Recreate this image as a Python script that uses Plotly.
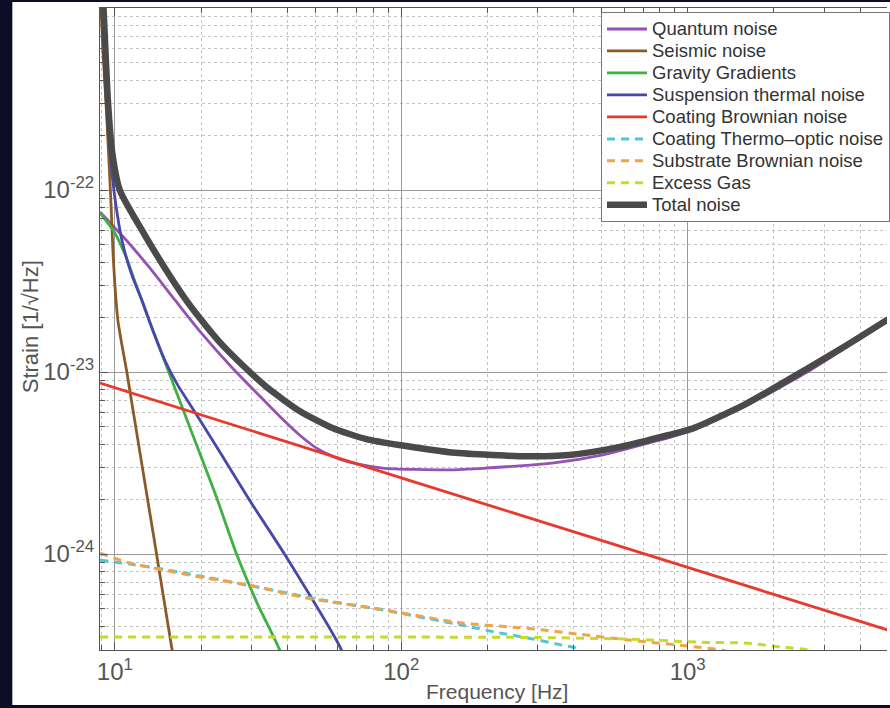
import plotly.graph_objects as go

# ---------------- data ----------------
total_f = [9.1, 9.30, 9.45, 9.76, 10.4, 12.72, 14.94, 17.53, 19.78, 23.22, 27.93, 33.86,
           44.13, 57.5, 75.5, 98.4, 147, 258, 385, 575, 859, 1050, 1593, 2577, 3554, 5012]
total_h = [1.1e-21, 5.18e-22, 3.13e-22, 1.66e-22, 1.0e-22, 5.66e-23, 3.73e-23, 2.55e-23,
           1.98e-23, 1.46e-23, 1.09e-23, 8.27e-24, 6.11e-24, 4.92e-24, 4.28e-24, 3.97e-24,
           3.63e-24, 3.45e-24, 3.50e-24, 3.87e-24, 4.51e-24, 4.93e-24, 6.67e-24, 1.03e-23,
           1.39e-23, 1.95e-23]

quantum_f = [8.87, 11.1, 13.24, 16.2, 19.78, 25.77, 33.86, 39.1, 44.13, 50.6, 58.4, 65.9,
             85.9, 147, 198, 336, 501, 749, 1050, 1593, 2577, 3554, 5012]
quantum_h = [7.57e-23, 5.18e-23, 3.73e-23, 2.49e-23, 1.68e-23, 1.05e-23, 6.76e-24, 5.38e-24,
             4.51e-24, 3.82e-24, 3.41e-24, 3.20e-24, 2.97e-24, 2.90e-24, 2.97e-24, 3.16e-24,
             3.50e-24, 4.12e-24, 4.80e-24, 6.50e-24, 9.87e-24, 1.36e-23, 1.91e-23]

seismic_f = [8.95, 9.08, 9.30, 9.49, 9.68, 9.84, 10.0, 10.24, 10.66, 11.01, 11.37, 13.67,
             15.8, 16.2]
seismic_h = [1.0e-21, 5.88e-22, 3.13e-22, 1.66e-22, 8.81e-23, 4.68e-23, 3.01e-23, 1.93e-23,
             1.32e-23, 1.0e-23, 7.29e-24, 1.24e-24, 3.05e-25, 2.45e-25]

gravity_f = [8.87, 10.0, 11.01, 11.93, 13.24, 14.94, 18.70, 22.49, 26.6, 31.5, 37.6, 38.5]
gravity_h = [7.48e-23, 5.81e-23, 4.18e-23, 2.93e-23, 1.88e-23, 1.14e-23, 4.51e-24, 2.11e-24,
             1.0e-24, 5.31e-25, 2.97e-25, 2.45e-25]

suspension_f = [9.49, 9.61, 9.92, 10.58, 11.46, 12.42, 13.46, 14.94, 16.58, 19.31, 23.6,
                29.5, 39.1, 61.8, 63.8]
suspension_h = [2.75e-22, 1.66e-22, 1.0e-22, 5.31e-23, 3.41e-23, 2.49e-23, 1.75e-23,
                1.16e-23, 8.48e-24, 5.81e-24, 3.50e-24, 1.98e-24, 1.0e-24, 2.97e-25, 2.45e-25]

coating_brown_f = [8.87, 100, 1000, 5012]
coating_brown_h = [8.71e-24, 2.62e-24, 8.45e-25, 3.82e-25]

thermo_optic_f = [8.87, 14.0, 31.3, 53.0, 79.3, 163, 214, 279, 364, 407, 452]
thermo_optic_h = [9.27e-25, 8.38e-25, 6.59e-25, 5.59e-25, 5.05e-25, 4.07e-25, 3.72e-25,
                  3.45e-25, 3.16e-25, 3.05e-25, 2.75e-25]

substrate_f = [8.87, 11.3, 19.8, 29.5, 46.7, 83.8, 101, 163, 244, 320, 417, 623, 1091, 1312, 1505]
substrate_h = [1.01e-24, 8.93e-25, 7.48e-25, 6.76e-25, 5.73e-25, 4.99e-25, 4.74e-25, 4.18e-25,
               3.97e-25, 3.82e-25, 3.63e-25, 3.37e-25, 3.08e-25, 2.97e-25, 2.79e-25]

gas_f = [8.87, 100, 300, 623, 1091, 1632, 2123, 2640, 2977]
gas_h = [3.50e-25, 3.50e-25, 3.48e-25, 3.41e-25, 3.28e-25, 3.24e-25, 3.08e-25, 2.97e-25, 2.75e-25]

x_major = [10, 100, 1000]
x_major_text = ["10<sup>1</sup>", "10<sup>2</sup>", "10<sup>3</sup>"]
y_major = [1e-24, 1e-23, 1e-22]
y_major_text = ["10<sup>-24</sup>", "10<sup>-23</sup>", "10<sup>-22</sup>"]

# ---------------- styling ----------------
FONT = "Liberation Sans, Arial, Helvetica, sans-serif"
W, H = 890, 708
L, T, B = 100, 8, 58
PW, PH = W - L, H - T - B

x_minor = [m * 10 ** e for e in range(0, 4) for m in range(2, 10)]
y_minor = [m * 10.0 ** e for e in range(-25, -21) for m in range(2, 10)]

series = [
    ("Quantum noise", quantum_f, quantum_h, "#9452b4", "solid", 2.8),
    ("Seismic noise", seismic_f, seismic_h, "#8c5a28", "solid", 2.8),
    ("Gravity Gradients", gravity_f, gravity_h, "#3fb043", "solid", 2.8),
    ("Suspension thermal noise", suspension_f, suspension_h, "#4848a8", "solid", 2.8),
    ("Coating Brownian noise", coating_brown_f, coating_brown_h, "#e63a2e", "solid", 2.8),
    ("Coating Thermo\u2013optic noise", thermo_optic_f, thermo_optic_h, "#52c6d2", "8px,6px", 3),
    ("Substrate Brownian noise", substrate_f, substrate_h, "#f0a44a", "8px,6px", 3),
    ("Excess Gas", gas_f, gas_h, "#c6d92e", "8px,6px", 3),
    ("Total noise", total_f, total_h, "#4a4a4a", "solid", 6.5),
]

fig = go.Figure()
for name, f, h, col, dash, w in series:
    shape = "linear" if len(f) <= 4 else "spline"
    fig.add_trace(go.Scatter(
        x=f, y=h, mode="lines",
        name="<span style='font-size:18.5px'>" + name + "</span>",
        line=dict(color=col, width=w, dash=dash, shape=shape, smoothing=0.6),
    ))

axis_common = dict(
    type="log", showgrid=True, gridcolor="#9a9a9a", gridwidth=1,
    showline=True, linecolor="#555555", linewidth=1,
    ticks="inside", ticklen=8, tickcolor="#555555",
    tickfont=dict(family=FONT, size=24, color="#555555"),
    zeroline=False,
)

fig.update_xaxes(
    **axis_common,
    range=[0.948, 3.696], tickmode="array", tickvals=x_major, ticktext=x_major_text,
    mirror="allticks",
    minor=dict(tickmode="array", tickvals=x_minor, ticks="inside", ticklen=5,
               tickcolor="#555555", showgrid=True, gridcolor="#c4c4c4", griddash="dot"),
)
fig.update_yaxes(
    **axis_common,
    range=[-24.527, -21.0], tickmode="array", tickvals=y_major, ticktext=y_major_text,
    mirror=False,
    minor=dict(tickmode="array", tickvals=y_minor, ticks="inside", ticklen=5,
               tickcolor="#555555", showgrid=True, gridcolor="#c4c4c4", griddash="dot"),
)

def px_x(px):
    return (px - L) / PW

def px_y(py):
    return (H - B - py) / PH

fig.add_shape(type="rect", xref="paper", yref="paper",
              x0=px_x(12), x1=px_x(900), y0=px_y(705), y1=px_y(2),
              fillcolor="white", line=dict(width=0), layer="below")

fig.add_annotation(text="Frequency [Hz]", xref="paper", yref="paper",
                   x=px_x(499), y=px_y(692), showarrow=False,
                   xanchor="center", yanchor="middle",
                   font=dict(family=FONT, size=21, color="#555555"))
fig.add_annotation(text="Strain [1/\u221aHz]", xref="paper", yref="paper",
                   x=px_x(30), y=px_y(327), showarrow=False, textangle=-90,
                   xanchor="center", yanchor="middle",
                   font=dict(family=FONT, size=22, color="#555555"))

fig.update_layout(
    width=W, height=H,
    margin=dict(l=L, r=0, t=T, b=B, pad=0),
    paper_bgcolor="#0c0c26", plot_bgcolor="white",
    showlegend=True,
    legend=dict(x=px_x(603), y=px_y(12), xanchor="left", yanchor="top",
                bgcolor="white", bordercolor="#777777", borderwidth=1,
                font=dict(family=FONT, size=14.6, color="#333333"),
                tracegroupgap=0, itemwidth=40),
)

fig.write_html("out.html")
